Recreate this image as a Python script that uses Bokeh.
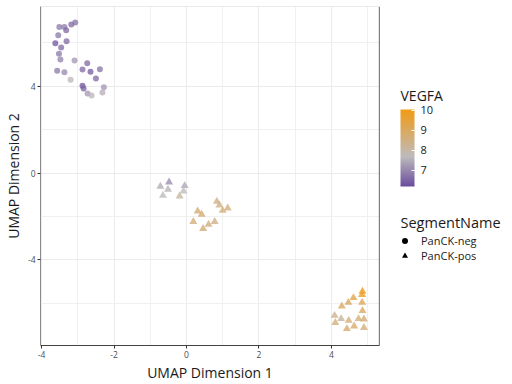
from bokeh.plotting import figure
from bokeh.layouts import row
from bokeh.models import (ColumnDataSource, LinearColorMapper, ColorBar, FixedTicker,
                          Range1d, Legend, LegendItem, Span, Label)
from bokeh.embed import file_html
from bokeh.resources import INLINE

# ---------------- data ----------------
neg_x = [-3.51, -3.37, -3.32, -3.18, -3.07, -3.54, -3.62, -3.31, -3.46, -3.52, -3.48, -3.09, -2.74,
         -2.87, -2.65, -2.39, -3.57, -3.37, -3.20, -2.50, -2.87, -2.84, -2.73, -2.62, -2.28, -2.32]
neg_y = [6.73, 6.73, 6.58, 6.85, 6.94, 6.36, 5.99, 6.08, 5.79, 5.50, 5.24, 5.19, 5.06,
         4.78, 4.67, 4.79, 4.72, 4.65, 4.30, 4.36, 4.03, 3.90, 3.67, 3.58, 3.96, 3.72]
neg_vegfa = [6.8, 6.8, 6.6, 6.6, 6.7, 6.8, 6.3, 6.6, 6.6, 6.8, 6.9, 7.2, 6.6,
             6.6, 6.4, 6.7, 6.8, 7.0, 7.6, 6.6, 6.3, 6.5, 7.2, 7.6, 7.2, 7.5]

pos_x = [-0.72, -0.48, -0.51, -0.65, -0.05, -0.08, -0.19, 0.84, 0.91, 1.14, 1.00, 0.31, 0.42, 0.19,
         0.78, 0.61, 0.46,
         4.86, 4.85, 4.61, 4.47, 4.29, 4.85, 4.86, 4.09, 4.27, 4.48, 4.75, 4.90, 4.11, 4.43, 4.63, 4.90]
pos_y = [-0.61, -0.41, -0.75, -1.03, -0.58, -0.83, -1.06, -1.30, -1.47, -1.61, -1.72, -1.75, -1.90,
         -2.23, -2.23, -2.36, -2.56,
         -5.45, -5.60, -5.74, -5.96, -6.13, -5.96, -6.34, -6.56, -6.71, -6.79, -6.71, -6.73, -6.89,
         -7.17, -7.05, -7.12]
pos_vegfa = [7.5, 7.1, 7.6, 7.7, 7.4, 7.7, 8.1, 8.4, 8.4, 8.6, 8.6, 8.7, 8.7, 8.6, 8.4, 8.5, 8.7,
             10.0, 9.8, 9.2, 9.0, 8.9, 9.1, 8.9, 8.3, 8.2, 8.6, 8.6, 8.7, 8.6, 8.8, 8.8, 8.6]

segments = ["PanCK-neg", "PanCK-pos"]
x_ticks = [-4, -2, 0, 2, 4]
x_tick_labels = ["-4", "-2", "0", "2", "4"]
y_ticks = [-4, 0, 4]
y_tick_labels = ["-4", "0", "4"]
cbar_ticks = [7, 8, 9, 10]
vegfa_low, vegfa_high = 6.2, 10.04

FONT = "Open Sans"
TXT = "#1A1A1A"

# ---------------- colour scale (purple - grey - orange) ----------------
stops = [(0.0, (0x6A, 0x4C, 0x9C)), (0.39, (0xBE, 0xBB, 0xBC)), (1.0, (0xF2, 0x9B, 0x14))]
palette = []
for i in range(256):
    t = i / 255
    for (t0, c0), (t1, c1) in zip(stops[:-1], stops[1:]):
        if t0 <= t <= t1:
            f = (t - t0) / (t1 - t0)
            c = tuple(int(round(a + (b - a) * f)) for a, b in zip(c0, c1))
            palette.append("#%02x%02x%02x" % c)
            break
mapper = LinearColorMapper(palette=palette, low=vegfa_low, high=vegfa_high)

# ---------------- main panel ----------------
p = figure(frame_width=339, frame_height=339, min_border_left=39, min_border_top=6,
           min_border_bottom=39, min_border_right=2,
           x_range=Range1d(-4.03, 5.33), y_range=Range1d(-7.94, 7.68),
           output_backend="svg", toolbar_location=None)
p.outline_line_color = None
p.background_fill_color = "white"

p.xaxis.ticker = FixedTicker(ticks=x_ticks, minor_ticks=[-3, -1, 1, 3, 5])
p.yaxis.ticker = FixedTicker(ticks=y_ticks, minor_ticks=[-6, -2, 2, 6])
p.xaxis.major_label_overrides = dict(zip(x_ticks, x_tick_labels))
p.yaxis.major_label_overrides = dict(zip(y_ticks, y_tick_labels))
for ax in (p.xaxis, p.yaxis):
    ax.major_label_text_font = FONT
    ax.major_label_text_font_size = "8.5px"
    ax.major_label_text_color = "#4D4D4D"
    ax.axis_label_text_font = FONT
    ax.axis_label_text_font_size = "14px"
    ax.axis_label_text_font_style = "normal"
    ax.axis_label_text_color = TXT
    ax.major_tick_in = 0
    ax.major_tick_out = 3
    ax.minor_tick_line_color = None
    ax.major_tick_line_color = "#333333"
    ax.major_label_standoff = 1
    ax.axis_label_standoff = 2
p.xaxis.axis_line_color = "#444444"
p.yaxis.axis_line_color = "#8C8C8C"
p.xaxis.axis_label = "UMAP Dimension 1"
p.yaxis.axis_label = "UMAP Dimension 2"

p.grid.grid_line_color = "#EBEBEB"
p.grid.minor_grid_line_color = "#F0F0F0"

p.add_layout(Span(location=5.33, dimension="height", line_color="black", line_width=1.2))
p.add_layout(Span(location=7.68, dimension="width", line_color="#D6D6D6", line_width=1))

src_neg = ColumnDataSource(dict(x=neg_x, y=neg_y, v=neg_vegfa))
src_pos = ColumnDataSource(dict(x=pos_x, y=pos_y, v=pos_vegfa))
cmap = {"field": "v", "transform": mapper}
p.scatter("x", "y", source=src_neg, marker="circle", size=6, fill_color=cmap,
          line_color=None, fill_alpha=0.75)
p.scatter("x", "y", source=src_pos, marker="triangle", size=8, fill_color=cmap,
          line_color=None, fill_alpha=0.8)

# ---------------- legend panel (page pixel coordinates, y downwards) ----------------
q = figure(width=132, height=384, min_border_left=0, min_border_right=0,
           min_border_top=6, min_border_bottom=39,
           x_range=Range1d(380, 512), y_range=Range1d(345, 6),
           x_axis_location=None, y_axis_location=None,
           output_backend="svg", toolbar_location=None)
q.grid.visible = False
q.outline_line_color = None

q.add_layout(Label(x=399, y=94.5, text="VEGFA", text_font=FONT, text_font_size="14px",
                   text_color=TXT, text_baseline="alphabetic"))

cbar = ColorBar(color_mapper=mapper, ticker=FixedTicker(ticks=cbar_ticks),
                major_label_overrides={t: str(t) for t in cbar_ticks},
                width=14, height=77, location=(19, 159), padding=0,
                major_label_text_font=FONT, major_label_text_font_size="11px",
                major_label_text_color=TXT, label_standoff=6,
                major_tick_line_color="white", major_tick_in=3, major_tick_out=0,
                minor_tick_line_color=None, bar_line_color=None,
                border_line_color=None, background_fill_alpha=0)
q.add_layout(cbar)

q.add_layout(Label(x=399, y=222, text="SegmentName", text_font=FONT, text_font_size="14.5px",
                   text_color=TXT, text_baseline="alphabetic"))

r_neg = q.scatter("x", "y", source=src_neg, marker="circle", fill_color="black",
                  line_color=None, visible=False)
r_pos = q.scatter("x", "y", source=src_pos, marker="triangle", fill_color="black",
                  line_color=None, visible=False)
legend = Legend(items=[LegendItem(label=segments[0], renderers=[r_neg]),
                       LegendItem(label=segments[1], renderers=[r_pos])],
                location=(16, 82))
legend.label_text_font = FONT
legend.label_text_font_size = "11px"
legend.label_text_color = TXT
legend.label_standoff = 9
legend.glyph_width = 15
legend.glyph_height = 15
legend.spacing = 0
legend.padding = 0
legend.margin = 0
legend.border_line_color = None
legend.background_fill_alpha = 0
q.add_layout(legend)

open("out.html", "w").write(file_html(row(p, q), INLINE))
